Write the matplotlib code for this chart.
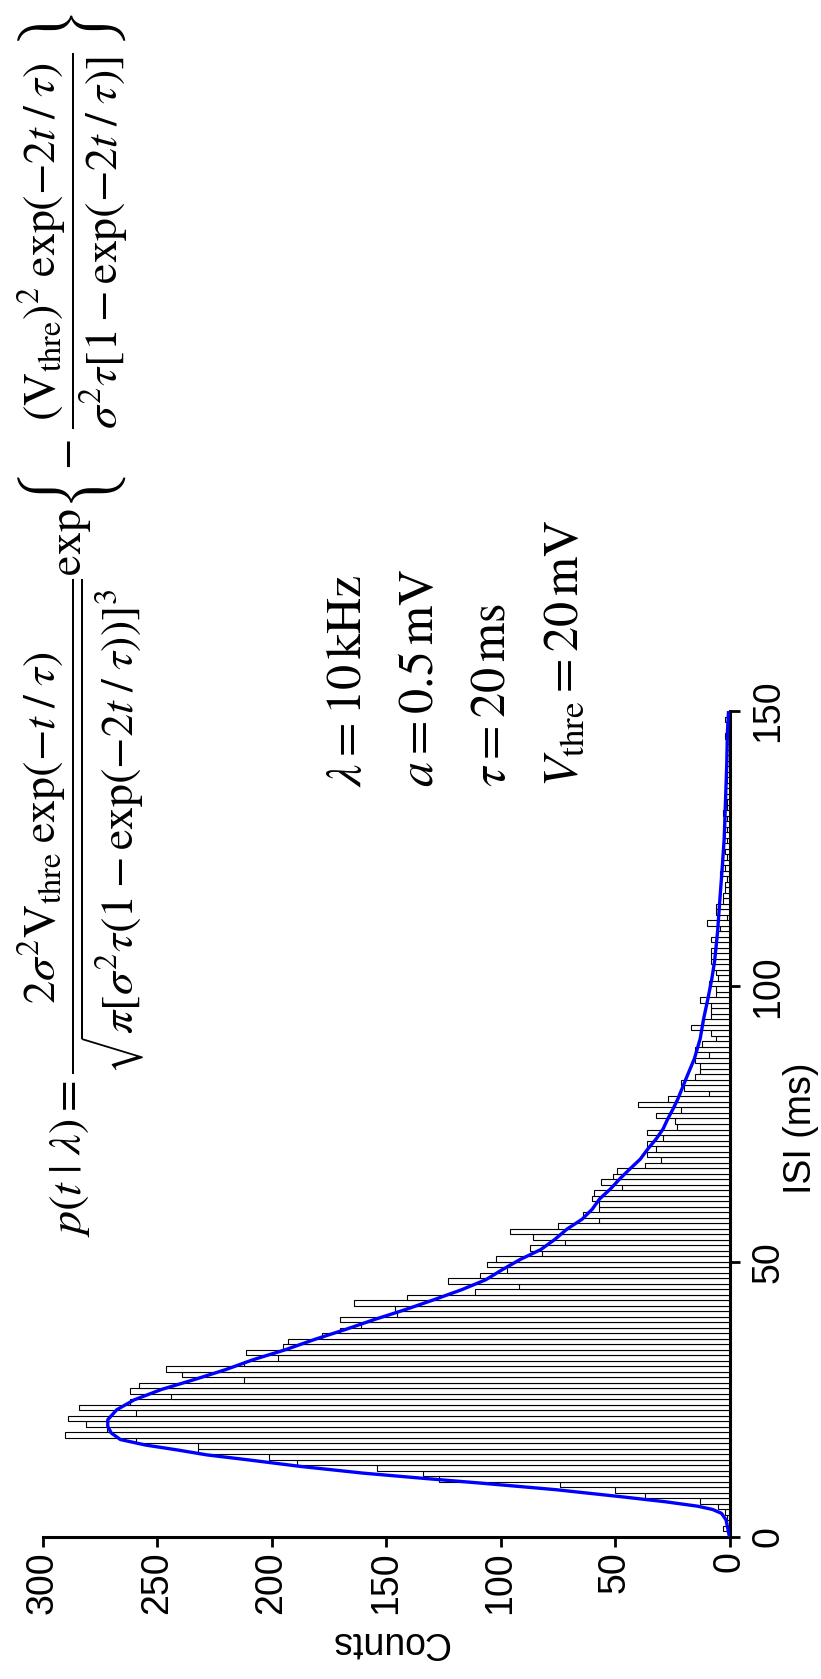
import numpy as np
import matplotlib
matplotlib.use('Agg')
import matplotlib.pyplot as plt

W, H = 821, 1679
plt.rcParams['mathtext.fontset'] = 'stix'
plt.rcParams['font.family'] = ['Liberation Sans', 'DejaVu Sans']

# ---------------- data ----------------
bin_width_ms = 1.0
bin_starts_ms = list(range(0, 150))
counts = [
    0, 3, 1, 1, 2, 5, 13, 37, 50, 74,
    127, 134, 154, 189, 201, 232, 232, 259, 290, 272,
    281, 289, 259, 284, 262, 244, 262, 258, 212, 239,
    246, 212, 197, 211, 195, 193, 178, 170, 161, 170,
    145, 146, 164, 141, 111, 92, 123, 109, 97, 106,
    102, 82, 87, 72, 86, 96, 75, 57, 64, 57,
    57, 60, 59, 47, 56, 51, 49, 37, 30, 36,
    32, 36, 29, 36, 23, 24, 32, 21, 40, 27,
    9, 20, 21, 15, 13, 13, 15, 9, 15, 12,
    6, 8, 17, 12, 8, 8, 8, 13, 6, 6,
    9, 5, 6, 7, 8, 8, 8, 6, 8, 6,
    4, 10, 1, 6, 6, 3, 3, 2, 2, 1,
    4, 2, 3, 1, 2, 3, 1, 3, 1, 2,
    1, 3, 1, 1, 2, 0, 2, 1, 1, 0,
    1, 1, 0, 1, 0, 2, 0, 1, 2, 1,
]

curve_isi = [0, 3.1, 4.3, 5.0, 5.6, 6.4, 7.3, 8.6, 9.8, 10.7, 11.6, 12.8, 14.0, 14.9,
             15.8, 16.7, 17.7, 18.9, 20.1, 21.3, 23.1, 24.9, 26.8, 28.6, 30.4, 32.2,
             34.0, 35.9, 37.7, 39.5, 41.3, 43.1, 44.9, 46.7, 48.6, 50.4, 52.2, 54.0,
             55.9, 57.7, 59.5, 61.4, 63.2, 65.0, 66.8, 68.6, 70.5, 72.3, 74.1, 75.9,
             77.7, 79.6, 83.2, 86.9, 90.5, 94.1, 97.8, 101.4, 104.6, 109.9, 114.7,
             120.8, 126.9, 131.8, 135.4, 140.3, 146.3, 150.0]
curve_counts = [0, 1.5, 3.5, 7.4, 14, 28, 47, 76, 109, 135, 160, 187, 210, 228,
                241, 255, 266, 270, 271.5, 271.5, 267.6, 260, 248, 233.6, 220, 208,
                194, 181, 167.6, 155, 141.5, 129, 117, 106.5, 99, 91.4, 82.4, 76.4,
                71, 64.4, 60, 56.7, 52, 48, 43.6, 39, 35.6, 32, 29, 27,
                24.7, 22.5, 19, 15.3, 12.8, 11.3, 9.4, 7.7, 6.5, 5.2, 4.4,
                3.3, 2.3, 1.9, 1.6, 1.2, 0.9, 0.4]

count_ticks = [0, 50, 100, 150, 200, 250, 300]
isi_ticks = [0, 50, 100, 150]
count_label = "Counts"
isi_label = "ISI (ms)"

formula = (r"$p(t\;|\;\lambda) = \dfrac{2\sigma^{2}\mathrm{V}_{\mathrm{thre}}\;\mathrm{exp}(-t\;/\;\tau)}"
           r"{\sqrt{\pi[\sigma^{2}\tau(1-\mathrm{exp}(-2t\;/\;\tau))]^{3}}}\mathrm{exp}"
           r"\left\{-\;\dfrac{(\mathrm{V}_{\mathrm{thre}})^{2}\;\mathrm{exp}(-2t\;/\;\tau)}"
           r"{\sigma^{2}\tau[1-\mathrm{exp}(-2t\;/\;\tau)]}\right\}$")
params = [r"$\lambda = 10\,\mathrm{kHz}$",
          r"$a = 0.5\,\mathrm{mV}$",
          r"$\tau = 20\,\mathrm{ms}$",
          r"$V_{\mathrm{thre}} = 20\,\mathrm{mV}$"]

# ---------------- figure ----------------
fig = plt.figure(figsize=(W / 100, H / 100), dpi=100)


def fx(px):
    return px / W


def fy(py):
    return 1 - py / H


ax_left, ax_right, ax_top, ax_bottom = 42.5, 729.5, 711, 1537
ax = fig.add_axes([fx(ax_left), fy(ax_bottom), (ax_right - ax_left) / W, (ax_bottom - ax_top) / H])

ax.barh(bin_starts_ms, counts, height=bin_width_ms, align='edge', left=0,
        color='white', edgecolor='black', linewidth=0.8)
ax.plot(curve_counts, curve_isi, color='#0000ff', lw=2.4, solid_capstyle='round', zorder=3)

ax.set_xlim(300, 0)
ax.set_ylim(0, 150)
for s in ['left', 'top']:
    ax.spines[s].set_visible(False)
for s in ['right', 'bottom']:
    ax.spines[s].set_linewidth(2.2)
ax.yaxis.tick_right()
ax.set_xticks(count_ticks)
ax.set_xticklabels([str(v) for v in count_ticks], rotation=90, ha='center', va='top')
ax.set_yticks(isi_ticks)
ax.set_yticklabels([str(v) for v in isi_ticks], rotation=90, ha='left', va='center')
ax.tick_params(axis='x', direction='out', length=7, width=2, labelsize=27, pad=3)
ax.tick_params(axis='y', direction='out', length=7, width=2, labelsize=27, pad=8)

fig.text(fx(390), fy(1642), count_label, rotation=180, ha='center', va='center', fontsize=27)
fig.text(fx(801), fy(1128), isi_label, rotation=90, ha='center', va='center', fontsize=27)

fig.text(fx(81), fy(1237), formula, rotation=90, rotation_mode='anchor',
         ha='left', va='center', fontsize=33)

for i, s in enumerate(params):
    fig.text(fx(361 + 72 * i), fy(787), s, rotation=90, rotation_mode='anchor',
             ha='left', va='baseline', fontsize=36)

fig.savefig('out.png', dpi=100)
